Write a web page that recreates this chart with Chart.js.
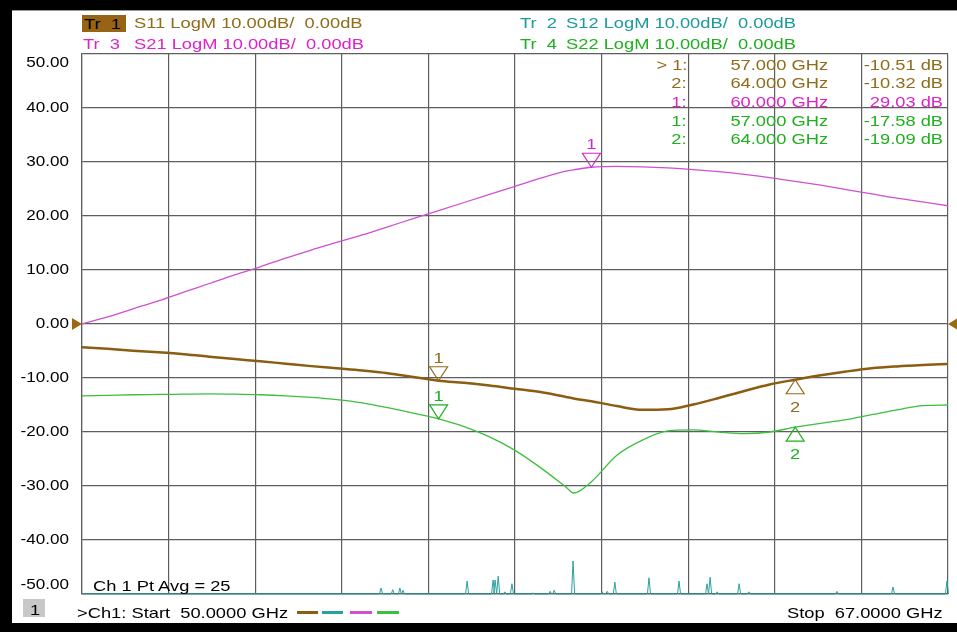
<!DOCTYPE html>
<html>
<head>
<meta charset="utf-8">
<script src="https://cdn.jsdelivr.net/npm/chart.js@4/dist/chart.umd.min.js"></script>
<style>
  html, body { margin: 0; padding: 0; }
  body { width: 957px; height: 632px; position: relative; overflow: hidden; background: #fff;
         font-family: "Liberation Sans", Arial, sans-serif; }
  #c { position: absolute; left: 0; top: 0; }
  .blk { position: absolute; background: #000; }
  .t { position: absolute; white-space: pre; font-size: 15px; line-height: 15px; }
  .dash { position: absolute; height: 3px; }
</style>
</head>
<body>
<canvas id="c" width="957" height="632"></canvas>
<div class="blk" style="left:0;top:0;width:957px;height:10px"></div>
<div style="position:absolute;left:12px;top:10px;width:945px;height:1px;background:#9a9a9a"></div>
<div class="blk" style="left:0;top:0;width:12px;height:632px"></div>
<div class="blk" style="left:0;top:623px;width:957px;height:9px"></div>
<div style="position:absolute;left:82px;top:15px;width:44px;height:17px;background:#966414"></div>
<div style="position:absolute;left:23px;top:599px;width:22px;height:18px;background:#c8c8c8"></div>
<div class="dash" style="left:297px;top:611px;width:21px;background:#8a5d10"></div>
<div class="dash" style="left:322px;top:611px;width:21px;background:#2aa0a0"></div>
<div class="dash" style="left:350px;top:611px;width:22px;background:#d050d0"></div>
<div class="dash" style="left:377px;top:611px;width:22px;background:#3cbf3c"></div>
<div id="txt"></div>
<script>
// Sweep points (GHz) shared by the smooth traces
const freqGHz = [50, 50.5, 51, 51.5, 52, 52.5, 53, 53.5, 54, 54.5, 55, 55.5, 56, 56.5, 57, 57.5,
  58, 58.5, 59, 59.5, 59.65, 60, 60.5, 61, 61.5, 62, 62.5, 63, 63.5, 64, 64.5, 65, 65.5, 66, 66.5, 67];

// Tr 1: S11 (dB)
const s11dB = [-4.3, -4.6, -4.95, -5.25, -5.6, -6.05, -6.5, -6.9, -7.35, -7.8, -8.2, -8.6, -9.1, -9.8, -10.51, -10.9,
  -11.4, -12.0, -12.6, -13.5, -13.8, -14.3, -15.2, -15.9, -15.8, -14.9, -13.7, -12.4, -11.2, -10.32, -9.5, -8.8, -8.2, -7.85, -7.6, -7.4];

// Tr 3: S21 (dB)
const s21dB = [0, 1.3, 2.8, 4.3, 5.9, 7.5, 9.1, 10.6, 12.2, 13.7, 15.1, 16.5, 18.0, 19.5, 21.0, 22.5,
  24.0, 25.5, 27.0, 28.3, 28.55, 29.03, 29.2, 29.1, 28.9, 28.6, 28.2, 27.7, 27.1, 26.4, 25.7, 24.9, 24.1, 23.3, 22.6, 21.9];

// Tr 4: S22 (dB)
const s22dB = [-13.3, -13.2, -13.1, -13.05, -13.0, -12.95, -13.0, -13.1, -13.3, -13.6, -14.0, -14.6, -15.5, -16.5, -17.58, -19.0,
  -20.9, -23.4, -26.6, -30.2, -31.3, -29.2, -24.3, -21.5, -19.8, -19.6, -20.0, -20.3, -20.0, -19.09, -18.4, -17.7, -16.8, -15.9, -15.1, -15.0];

// Tr 2: S12 sits on the -50 dB floor; isolated noise peaks (GHz, dB)
const s12PeakGHz = [55.87, 56.10, 56.24, 56.30, 57.56, 58.07, 58.11, 58.17, 58.30, 58.44, 58.85, 59.19, 59.27, 59.64,
  60.21, 60.31, 60.46, 61.13, 61.72, 62.27, 62.33, 62.47, 62.90, 63.09, 64.82, 65.92, 66.98];
const s12PeakDb = [-48.9, -49.2, -48.9, -49.3, -47.6, -47.4, -47.4, -46.7, -49.6, -48.1, -49.8, -49.5, -49.3, -43.9,
  -49.6, -49.5, -47.8, -47.0, -47.6, -48.1, -46.9, -49.6, -48.1, -49.6, -49.5, -48.7, -47.6];
const s12FloorDb = -50;

// Axis setup
const startGHz = 50, stopGHz = 67;
const xGridGHz = [50, 51.7, 53.4, 55.1, 56.8, 58.5, 60.2, 61.9, 63.6, 65.3, 67];
const yTickDb = [50, 40, 30, 20, 10, 0, -10, -20, -30, -40, -50];
const refLevelDb = 0;

// Markers
const markerTrace = ['S11', 'S11', 'S21', 'S22', 'S22'];
const markerNum = [1, 2, 1, 1, 2];
const markerGHz = [57, 64, 60, 57, 64];
const markerDb = [-10.51, -10.32, 29.03, -17.58, -19.09];

const traceStyle = {
  S11: { line: '#8a5d10', text: '#8f6c1a', width: 2.5 },
  S12: { line: '#2aa0a0', text: '#1a9a9a', width: 1 },
  S21: { line: '#d050d0', text: '#dd22cc', width: 1.3 },
  S22: { line: '#3cbf3c', text: '#1eb01e', width: 1.3 }
};

const SX = 1.22; // horizontal stretch of the instrument font

// ---- HTML text ----
const txt = document.getElementById('txt');
function put(text, x, cy, align, color) {
  const s = document.createElement('span');
  s.className = 't';
  s.textContent = text;
  s.style.color = color;
  s.style.top = (cy - 7.5) + 'px';
  if (align === 'right') {
    s.style.right = (957 - x) + 'px';
    s.style.transformOrigin = 'right center';
  } else {
    s.style.left = x + 'px';
    s.style.transformOrigin = 'left center';
  }
  s.style.transform = 'scaleX(' + SX + ')';
  txt.appendChild(s);
  return s;
}

put('Tr  1', 84, 23, 'left', '#000');
put('S11 LogM 10.00dB/  0.00dB', 134, 22, 'left', traceStyle.S11.text);
put('Tr  3', 83, 43, 'left', traceStyle.S21.text);
put('S21 LogM 10.00dB/  0.00dB', 134, 43, 'left', traceStyle.S21.text);
put('Tr  2', 520, 22, 'left', traceStyle.S12.text);
put('S12 LogM 10.00dB/  0.00dB', 566, 22, 'left', traceStyle.S12.text);
put('Tr  4', 520, 43, 'left', traceStyle.S22.text);
put('S22 LogM 10.00dB/  0.00dB', 566, 43, 'left', traceStyle.S22.text);

// marker readout table
const rowY = [64, 82, 101, 120, 138];
markerGHz.forEach((f, i) => {
  const col = traceStyle[markerTrace[i]].text;
  const lead = (i === 0 ? '> ' : '') + markerNum[i] + ':';
  put(lead, 687, rowY[i], 'right', col);
  put(f.toFixed(3) + ' GHz', 828, rowY[i], 'right', col);
  put(markerDb[i].toFixed(2) + ' dB', 943, rowY[i], 'right', col);
});

put('Ch 1 Pt Avg = 25', 93, 585, 'left', '#000');
put('1', 30, 609, 'left', '#000');
put('>Ch1: Start  ' + startGHz.toFixed(4) + ' GHz', 77, 612, 'left', '#000');
put('Stop  ' + stopGHz.toFixed(4) + ' GHz', 943, 612, 'right', '#000');

// ---- chart ----
const s12Points = [{ x: startGHz, y: s12FloorDb }];
s12PeakGHz.forEach((f, i) => {
  s12Points.push({ x: f - 0.03, y: s12FloorDb }, { x: f, y: s12PeakDb[i] }, { x: f + 0.03, y: s12FloorDb });
});
s12Points.push({ x: stopGHz, y: s12FloorDb });

const pairs = arr => freqGHz.map((f, i) => ({ x: f, y: arr[i] }));

function stretchedText(ctx, t, x, y, align, color, size) {
  ctx.save();
  ctx.translate(x, y);
  ctx.scale(SX, 1);
  ctx.font = size + 'px "Liberation Sans", Arial, sans-serif';
  ctx.fillStyle = color;
  ctx.textAlign = align;
  ctx.textBaseline = 'middle';
  ctx.fillText(t, 0, 0);
  ctx.restore();
}

const vnaOverlay = {
  id: 'vnaOverlay',
  afterDatasetsDraw(chart) {
    const { ctx, scales: { x, y } } = chart;
    markerGHz.forEach((f, i) => {
      const st = traceStyle[markerTrace[i]];
      const px = x.getPixelForValue(f), py = y.getPixelForValue(markerDb[i]);
      const down = markerNum[i] === 1;
      const h = 14, hw = 9;
      ctx.save();
      ctx.strokeStyle = st.text;
      ctx.lineWidth = 1.2;
      ctx.beginPath();
      ctx.moveTo(px, py);
      ctx.lineTo(px - hw, down ? py - h : py + h);
      ctx.lineTo(px + hw, down ? py - h : py + h);
      ctx.closePath();
      ctx.stroke();
      ctx.restore();
      stretchedText(ctx, String(markerNum[i]), px, down ? py - 22 : py + 28, 'center', st.text, 15);
    });
  },
  afterDraw(chart) {
    const { ctx, chartArea, scales: { y } } = chart;
    yTickDb.forEach(v => {
      let py = y.getPixelForValue(v);
      py = Math.min(Math.max(py, chartArea.top + 9), chartArea.bottom - 9);
      stretchedText(ctx, v.toFixed(2), chartArea.left - 13, py, 'right', '#000', 14);
    });
    // reference level arrows
    const ry = y.getPixelForValue(refLevelDb);
    ctx.save();
    ctx.fillStyle = '#9a6a10';
    ctx.beginPath();
    ctx.moveTo(chartArea.left, ry); ctx.lineTo(chartArea.left - 10, ry - 6); ctx.lineTo(chartArea.left - 10, ry + 6);
    ctx.closePath(); ctx.fill();
    ctx.beginPath();
    ctx.moveTo(chartArea.right, ry); ctx.lineTo(chartArea.right + 10, ry - 6); ctx.lineTo(chartArea.right + 10, ry + 6);
    ctx.closePath(); ctx.fill();
    ctx.restore();
  }
};

const gridColor = '#5e5e5e';
new Chart(document.getElementById('c'), {
  type: 'line',
  data: {
    datasets: [
      { label: 'S12', data: s12Points, borderColor: traceStyle.S12.line, borderWidth: traceStyle.S12.width, clip: 3 },
      { label: 'S21', data: pairs(s21dB), borderColor: traceStyle.S21.line, borderWidth: traceStyle.S21.width, cubicInterpolationMode: 'monotone' },
      { label: 'S22', data: pairs(s22dB), borderColor: traceStyle.S22.line, borderWidth: traceStyle.S22.width, cubicInterpolationMode: 'monotone' },
      { label: 'S11', data: pairs(s11dB), borderColor: traceStyle.S11.line, borderWidth: traceStyle.S11.width, cubicInterpolationMode: 'monotone' }
    ]
  },
  options: {
    responsive: false,
    animation: false,
    devicePixelRatio: 1,
    layout: { padding: { left: 82, right: 9, top: 54, bottom: 38 } },
    elements: { point: { radius: 0 }, line: { fill: false } },
    plugins: { legend: { display: false }, tooltip: { enabled: false } },
    scales: {
      x: {
        type: 'linear', min: startGHz, max: stopGHz,
        afterBuildTicks: s => { s.ticks = xGridGHz.map(v => ({ value: v })); },
        ticks: { display: false },
        grid: { color: gridColor, lineWidth: 1.2, drawTicks: false },
        border: { display: true, color: gridColor, width: 1.2 }
      },
      y: {
        type: 'linear', min: -50, max: 50,
        afterBuildTicks: s => { s.ticks = yTickDb.map(v => ({ value: v })); },
        ticks: { display: false },
        grid: { color: gridColor, lineWidth: 1.2, drawTicks: false },
        border: { display: true, color: gridColor, width: 1.2 }
      }
    }
  },
  plugins: [vnaOverlay]
});
</script>
</body>
</html>
